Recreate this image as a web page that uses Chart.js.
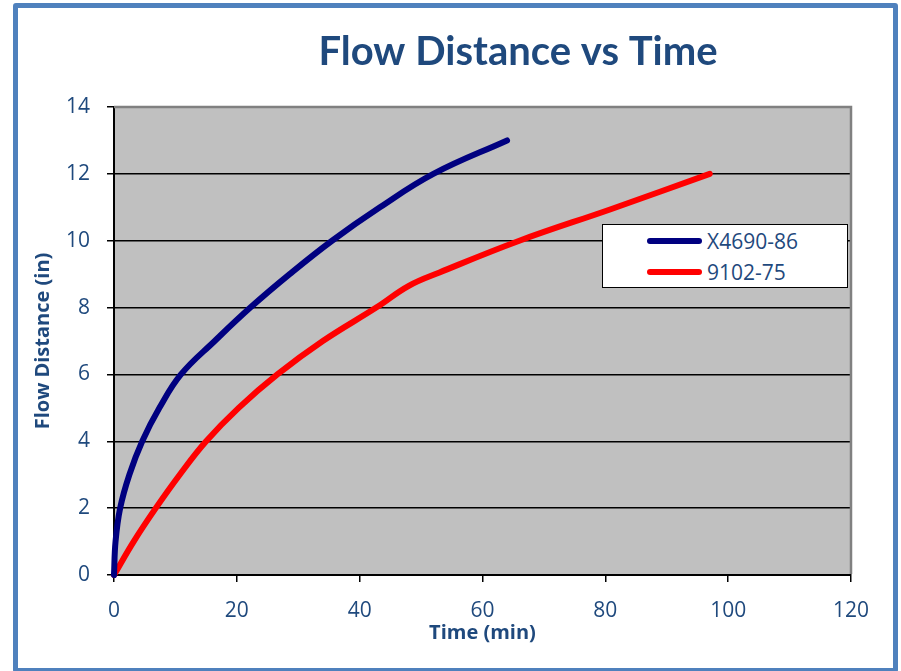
<!DOCTYPE html>
<html>
<head>
<meta charset="utf-8">
<script src="https://cdn.jsdelivr.net/npm/chart.js@4.4.0/dist/chart.umd.min.js"></script>
<style>
  body { margin: 0; background: #fff; }
  #wrap { position: relative; width: 901px; height: 671px; overflow: hidden; }
  #frame { position: absolute; left: 13px; top: 3px; width: 875px; height: 660px;
           border: 5px solid #4F81BD; border-radius: 3px; pointer-events: none; }
  #legend { position: absolute; left: 602px; top: 224px; width: 246px; height: 64px;
            box-sizing: border-box; background: #fff; border: 1px solid #000; }
  .item { display: flex; align-items: center; height: 31px; padding-left: 44px;
          font: 21px "Open Sans", sans-serif; color: #1F497D; }
  .swatch { width: 55px; height: 6px; border-radius: 3px; margin-right: 5px; }
</style>
</head>
<body>
<div id="wrap">
  <canvas id="myChart" width="901" height="671"></canvas>
  <div id="frame"></div>
  <div id="legend"></div>
</div>
<script>
const chartTitle = 'Flow Distance vs Time';
const xTitle = 'Time (min)';
const yTitle = 'Flow Distance (in)';

const seriesNames = ['X4690-86', '9102-75'];
const seriesColors = ['#000080', '#FF0000'];

// X4690-86
const timeA = [0, 0.25, 1.0, 2.5, 4.6, 7.4, 10.9, 16.4, 22.2, 28.6, 35.5, 43.3, 52, 64];
const distA = [0, 1, 2, 3, 4, 5, 6, 7, 8, 9, 10, 11, 12, 13];
// 9102-75
const timeB = [0, 3.2, 6.8, 10.7, 15, 20.3, 26.6, 34, 42.7, 48, 53, 66, 81, 97];
const distB = [0, 1, 2, 3, 4, 5, 6, 7, 8, 8.65, 9.05, 10, 10.95, 12];

const xMin = 0, xMax = 120, xStep = 20;
const yMin = 0, yMax = 14, yStep = 2;

const textColor = '#1F497D';

function toPoints(xs, ys){
  const pts = [];
  for(let i = 0; i < xs.length; i++){
    pts.push({x: xs[i], y: ys[i]});
  }
  return pts;
}

const ctx = document.getElementById('myChart').getContext('2d');

// gray plot area + gray top/right edge
const plotArea = {
  id: 'plotArea',
  beforeDraw(chart){
    const {ctx, chartArea: a} = chart;
    ctx.save();
    ctx.fillStyle = '#C0C0C0';
    ctx.fillRect(a.left, a.top, a.right - a.left, a.bottom - a.top);
    ctx.restore();
  },
  beforeDatasetsDraw(chart){
    const {ctx, chartArea: a} = chart;
    ctx.save();
    ctx.strokeStyle = '#808080';
    ctx.lineWidth = 2.5;
    ctx.beginPath();
    ctx.moveTo(a.left, a.top);
    ctx.lineTo(a.right, a.top);
    ctx.lineTo(a.right, a.bottom - 1);
    ctx.stroke();
    ctx.restore();
  }
};

// title sits right of centre in the original
const titleText = {
  id: 'titleText',
  afterDraw(chart){
    const c = chart.ctx;
    c.save();
    c.font = 'bold 40px Lato, "Open Sans", sans-serif';
    c.fillStyle = textColor;
    c.textAlign = 'center';
    c.textBaseline = 'alphabetic';
    c.fillText(chartTitle, 518, 65);
    c.restore();
  }
};

const datasets = [
  {
    label: seriesNames[0],
    data: toPoints(timeA, distA),
    borderColor: seriesColors[0],
    backgroundColor: seriesColors[0],
  },
  {
    label: seriesNames[1],
    data: toPoints(timeB, distB),
    borderColor: seriesColors[1],
    backgroundColor: seriesColors[1],
  }
];
datasets.forEach(function(d){
  d.showLine = true;
  d.borderWidth = 6;
  d.pointRadius = 0;
  d.borderCapStyle = 'round';
  d.borderJoinStyle = 'round';
  d.tension = 0.4;
  d.clip = false;
});

const myChart = new Chart(ctx, {
  type: 'scatter',
  data: { datasets: datasets },
  options: {
    responsive: false,
    animation: false,
    devicePixelRatio: 1,
    layout: { padding: { top: 107, right: 50, left: 0, bottom: 0 } },
    plugins: {
      legend: { display: false },
      title: { display: false },
      tooltip: { enabled: false }
    },
    scales: {
      x: {
        type: 'linear',
        min: xMin,
        max: xMax,
        afterFit: function(s){ s.height = 96; },
        ticks: {
          stepSize: xStep,
          color: textColor,
          padding: 16,
          font: { family: 'Open Sans', size: 21 }
        },
        grid: {
          drawOnChartArea: false,
          drawTicks: true,
          tickLength: 7,
          color: '#000',
          lineWidth: 1.5
        },
        border: { display: true, color: '#000', width: 2 },
        title: {
          display: true,
          text: xTitle,
          color: textColor,
          padding: { top: 0, bottom: 26 },
          font: { family: 'Open Sans', size: 20, weight: 'bold' }
        }
      },
      y: {
        type: 'linear',
        min: yMin,
        max: yMax,
        afterFit: function(s){ s.width = 114; },
        ticks: {
          stepSize: yStep,
          color: textColor,
          padding: 17,
          font: { family: 'Open Sans', size: 21 }
        },
        grid: {
          drawTicks: true,
          tickLength: 7,
          color: '#000',
          lineWidth: 1.5
        },
        border: { display: true, color: '#000', width: 2 },
        title: {
          display: true,
          text: yTitle,
          color: textColor,
          padding: { top: 31, bottom: 0 },
          font: { family: 'Open Sans', size: 20, weight: 'bold' }
        }
      }
    }
  },
  plugins: [plotArea, titleText]
});

// legend box inside the plot, built from the series arrays
const legendEl = document.getElementById('legend');
for(let i = 0; i < seriesNames.length; i++){
  const row = document.createElement('div');
  row.className = 'item';
  const sw = document.createElement('span');
  sw.className = 'swatch';
  sw.style.background = seriesColors[i];
  const txt = document.createElement('span');
  txt.textContent = seriesNames[i];
  row.appendChild(sw);
  row.appendChild(txt);
  legendEl.appendChild(row);
}
</script>
</body>
</html>
